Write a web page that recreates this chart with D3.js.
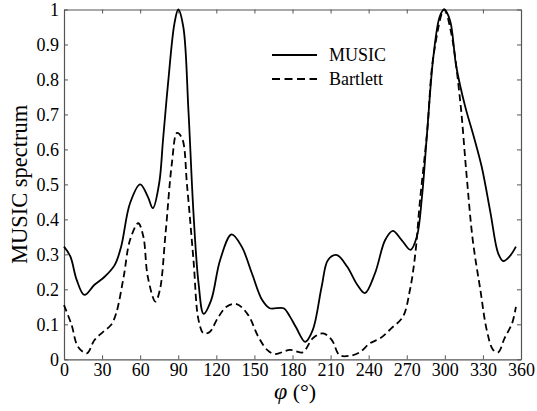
<!DOCTYPE html>
<html>
<head>
<meta charset="utf-8">
<script src="https://cdn.jsdelivr.net/npm/d3@7"></script>
<style>
  body { margin: 0; background: #fff; }
  text { font-family: "Liberation Serif", "Times New Roman", serif; fill: #000; }
</style>
</head>
<body>
<svg id="chart" width="537" height="411"></svg>
<script>
// MUSIC spectrum
var musicDeg = [0, 5, 10, 16, 24, 32, 40, 45, 52, 60, 66, 70, 75, 78, 82, 87, 90, 94, 98, 102, 106, 110, 116, 123, 132, 140, 148, 156, 162, 173, 178, 183, 190, 196, 203, 208, 215, 223, 231, 237, 245, 253, 259, 266, 273, 278, 282, 286, 291, 296, 299.5, 304, 309, 316, 322, 329, 336, 342, 346, 351, 356];
var musicVal = [0.322, 0.294, 0.227, 0.184, 0.213, 0.236, 0.27, 0.322, 0.446, 0.50, 0.465, 0.432, 0.504, 0.627, 0.79, 0.96, 1.0, 0.95, 0.713, 0.418, 0.217, 0.13, 0.17, 0.284, 0.357, 0.322, 0.246, 0.17, 0.146, 0.146, 0.122, 0.09, 0.05, 0.084, 0.208, 0.284, 0.298, 0.265, 0.213, 0.189, 0.246, 0.341, 0.367, 0.341, 0.313, 0.351, 0.465, 0.647, 0.866, 0.98, 1.0, 0.97, 0.837, 0.723, 0.647, 0.551, 0.418, 0.303, 0.281, 0.294, 0.322];

// Bartlett spectrum
var bartDeg = [0, 6, 11, 18, 24, 31, 37, 41, 47, 52, 58.5, 62.5, 66, 72, 75.5, 80, 85, 89, 93, 97, 102, 106, 110, 115, 121, 128, 136, 145, 153, 160, 166, 178, 188, 196, 204, 211, 217, 225, 233, 241, 249, 258, 267, 272.5, 276.5, 280.5, 286, 291, 299.5, 305, 312, 317, 322, 328, 333, 338, 342, 347, 353, 356];
var bartVal = [0.155, 0.098, 0.036, 0.017, 0.055, 0.079, 0.098, 0.13, 0.236, 0.341, 0.389, 0.351, 0.236, 0.165, 0.198, 0.36, 0.561, 0.647, 0.632, 0.494, 0.284, 0.112, 0.074, 0.079, 0.117, 0.15, 0.158, 0.127, 0.065, 0.027, 0.015, 0.027, 0.02, 0.06, 0.074, 0.055, 0.012, 0.01, 0.02, 0.046, 0.06, 0.089, 0.122, 0.198, 0.294, 0.456, 0.647, 0.866, 1.0, 0.933, 0.742, 0.532, 0.341, 0.198, 0.084, 0.027, 0.02, 0.06, 0.103, 0.15];

var xTicks = [0, 30, 60, 90, 120, 150, 180, 210, 240, 270, 300, 330, 360];
var yTicks = [0, 0.1, 0.2, 0.3, 0.4, 0.5, 0.6, 0.7, 0.8, 0.9, 1];
var seriesNames = ["MUSIC", "Bartlett"];

var svg = d3.select("#chart");
var plotL = 64, plotR = 521, plotT = 9.5, plotB = 359.3;

var x = d3.scaleLinear().domain([0, 360]).range([plotL, plotR]);
var y = d3.scaleLinear().domain([0, 1]).range([plotB, plotT]);

// axes with inward ticks on all four sides
var fmtY = d => d === 0 ? "0" : d === 1 ? "1" : d3.format(".1f")(d);

svg.append("g").attr("transform", `translate(0,${plotB})`)
    .call(d3.axisBottom(x).tickValues(xTicks).tickSizeInner(-4).tickSizeOuter(0).tickPadding(4))
    .call(g => g.selectAll("text").attr("font-size", 18));
svg.append("g").attr("transform", `translate(0,${plotT})`)
    .call(d3.axisTop(x).tickValues(xTicks).tickSizeInner(-4).tickSizeOuter(0).tickFormat(""));
svg.append("g").attr("transform", `translate(${plotL},0)`)
    .call(d3.axisLeft(y).tickValues(yTicks).tickSizeInner(-4).tickSizeOuter(0).tickPadding(5).tickFormat(fmtY))
    .call(g => g.selectAll("text").attr("font-size", 18));
svg.append("g").attr("transform", `translate(${plotR},0)`)
    .call(d3.axisRight(y).tickValues(yTicks).tickSizeInner(-4).tickSizeOuter(0).tickFormat(""));

svg.selectAll(".domain").attr("stroke", "#555").attr("stroke-width", 1.2);
svg.selectAll(".tick line").attr("stroke", "#555");
svg.selectAll(".tick text").attr("font-family", "Liberation Serif").attr("fill", "#000");

var line = d3.line().x(d => x(d[0])).y(d => y(d[1])).curve(d3.curveCatmullRom.alpha(0.5));

var music = d3.zip(musicDeg, musicVal);
var bart = d3.zip(bartDeg, bartVal);

svg.append("path").datum(bart).attr("d", line)
    .attr("fill", "none").attr("stroke", "#000").attr("stroke-width", 1.8)
    .attr("stroke-dasharray", "7,4");
svg.append("path").datum(music).attr("d", line)
    .attr("fill", "none").attr("stroke", "#000").attr("stroke-width", 1.8);

// legend
var legend = svg.append("g");
seriesNames.forEach((name, i) => {
    var ly = 55 + i * 24;
    legend.append("line").attr("x1", 272).attr("x2", 317).attr("y1", ly).attr("y2", ly)
        .attr("stroke", "#000").attr("stroke-width", 1.8)
        .attr("stroke-dasharray", i === 1 ? "8,4.5" : null);
    legend.append("text").attr("x", 329).attr("y", ly + 6).attr("font-size", 18).text(name);
});

// axis titles
svg.append("text").attr("transform", `translate(27,${(plotT + plotB) / 2}) rotate(-90)`)
    .attr("text-anchor", "middle").attr("font-size", 22.5).text("MUSIC spectrum");

var xt = svg.append("text").attr("x", 295).attr("y", 399).attr("text-anchor", "middle").attr("font-size", 22);
xt.append("tspan").attr("font-style", "italic").attr("font-size", 24).text("φ");
xt.append("tspan").text(" (°)");
</script>
</body>
</html>
